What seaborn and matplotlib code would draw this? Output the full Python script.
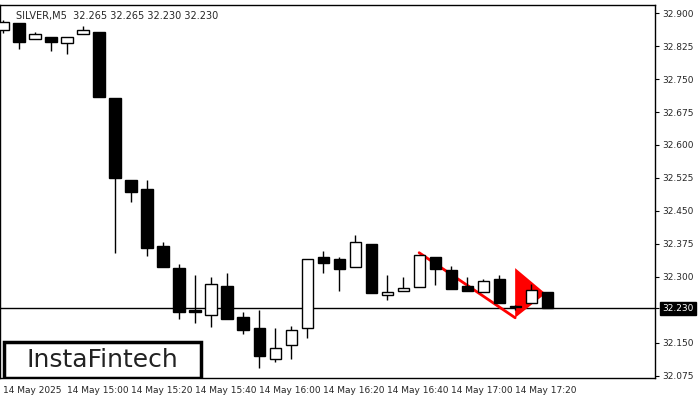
import matplotlib
matplotlib.use("Agg")
import matplotlib.pyplot as plt
from matplotlib.patches import Rectangle
import seaborn as sns
import numpy as np

sns.set_style("white")

# 5-minute candles starting 14 May 14:40
opens = [32.861, 32.877, 32.841, 32.845, 32.832, 32.852, 32.857, 32.707, 32.520, 32.500,
         32.370, 32.320, 32.225, 32.214, 32.280, 32.209, 32.184, 32.114, 32.145, 32.184,
         32.345, 32.341, 32.323, 32.375, 32.259, 32.268, 32.277, 32.345, 32.316, 32.280,
         32.266, 32.295, 32.234, 32.241, 32.266]
highs = [32.885, 32.877, 32.857, 32.845, 32.845, 32.870, 32.857, 32.707, 32.520, 32.520,
         32.380, 32.330, 32.305, 32.300, 32.309, 32.220, 32.225, 32.184, 32.189, 32.341,
         32.359, 32.345, 32.395, 32.375, 32.305, 32.300, 32.350, 32.345, 32.325, 32.300,
         32.295, 32.305, 32.236, 32.284, 32.266]
lows = [32.855, 32.818, 32.841, 32.814, 32.807, 32.852, 32.709, 32.355, 32.470, 32.348,
        32.323, 32.205, 32.195, 32.186, 32.205, 32.170, 32.093, 32.107, 32.114, 32.161,
        32.309, 32.268, 32.323, 32.264, 32.248, 32.268, 32.277, 32.282, 32.273, 32.268,
        32.266, 32.241, 32.225, 32.241, 32.230]
closes = [32.880, 32.834, 32.852, 32.834, 32.845, 32.861, 32.709, 32.525, 32.493, 32.366,
          32.323, 32.220, 32.220, 32.284, 32.205, 32.180, 32.120, 32.139, 32.180, 32.341,
          32.332, 32.318, 32.380, 32.264, 32.266, 32.275, 32.350, 32.318, 32.273, 32.268,
          32.291, 32.241, 32.232, 32.270, 32.230]

tick_idx = [0, 4, 8, 12, 16, 20, 24, 28, 32]
tick_labels = ["14 May 2025", "14 May 15:00", "14 May 15:20", "14 May 15:40", "14 May 16:00",
               "14 May 16:20", "14 May 16:40", "14 May 17:00", "14 May 17:20"]
price_ticks = [32.075, 32.150, 32.230, 32.300, 32.375, 32.450, 32.525, 32.600,
               32.675, 32.750, 32.825, 32.900]
last_price = 32.230

# pennant pattern
pole_x = [26, 32]
pole_y = [32.355, 32.207]
flag_x = [32, 32, 33.9]
flag_y = [32.320, 32.207, 32.262]

fig = plt.figure(figsize=(7, 4), dpi=100)
ax = fig.add_axes([0, 0.055, 0.936, 0.932])
n = len(opens)
x = np.arange(n)
o = np.array(opens); c = np.array(closes)
up = c >= o
ax.vlines(x, lows, highs, color="black", lw=1, zorder=3)
bot = np.minimum(o, c); h = np.maximum(np.abs(c - o), 0.002)
ax.bar(x[up], h[up], bottom=bot[up], width=0.7, color="white", edgecolor="black", lw=1, zorder=4)
ax.bar(x[~up], h[~up], bottom=bot[~up], width=0.7, color="black", edgecolor="black", lw=1, zorder=4)

ax.axhline(last_price, color="black", lw=1, zorder=1)
ax.fill(flag_x, flag_y, color="red", zorder=2, lw=0)
ax.plot(pole_x, pole_y, color="red", lw=2, zorder=2)

ax.set_xlim(-0.19, 40.75)
ax.set_ylim(32.070, 32.918)
ax.yaxis.tick_right()
ax.set_yticks(price_ticks)
ax.set_yticklabels([f"{p:.3f}" for p in price_ticks], fontsize=6.5)
ax.set_xticks(tick_idx)
ax.set_xticklabels(tick_labels, fontsize=6.5, ha="left")
ax.tick_params(axis="both", length=3, direction="out", pad=2, color="black")
ax.tick_params(axis="x", pad=3)
for s in ax.spines.values():
    s.set_color("black"); s.set_linewidth(1)

for lab in ax.get_yticklabels():
    if lab.get_text() == f"{last_price:.3f}":
        lab.set_color("white")
        lab.set_bbox(dict(facecolor="black", edgecolor="black", pad=1.5))

ax.text(0.025, 0.985, "SILVER,M5  32.265 32.265 32.230 32.230", transform=ax.transAxes,
        fontsize=7, va="top", ha="left")
ax.add_patch(Rectangle((4 / 700, 22 / 400), 197 / 700, 36 / 400, transform=fig.transFigure,
                       facecolor="white", edgecolor="black", lw=2.5, zorder=6))
fig.text(102 / 700, 40 / 400, "InstaFintech", fontsize=18, ha="center", va="center",
         color="#222222", zorder=7)

fig.savefig("out.png", dpi=100)
